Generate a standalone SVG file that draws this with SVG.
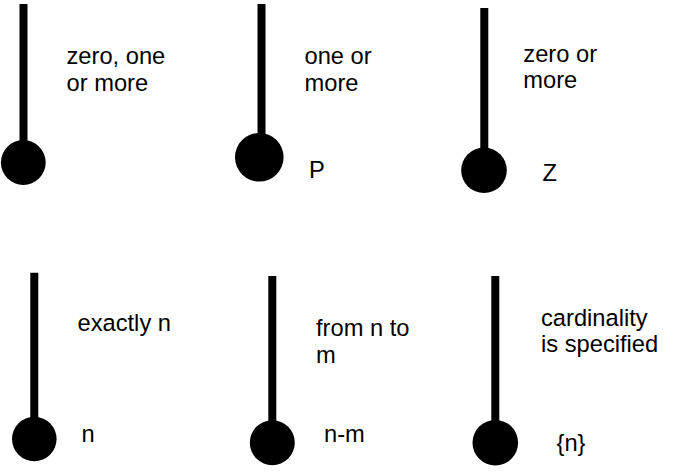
<svg xmlns="http://www.w3.org/2000/svg" width="675" height="476" viewBox="0 0 675 476">
<style>
.stem{stroke:#000;stroke-width:8;fill:none}
.dot{fill:#000}
text{font-family:"Liberation Sans",Arial,sans-serif;font-size:23.7px;fill:#000}
</style>
<rect width="675" height="476" fill="#fff"/>
<g id="connectors">
<line class="stem" x1="23.5" y1="4" x2="23.5" y2="150"/>
<line class="stem" x1="261.5" y1="4" x2="261.5" y2="145"/>
<line class="stem" x1="484.3" y1="8" x2="484.3" y2="158"/>
<line class="stem" x1="34.3" y1="272.7" x2="34.3" y2="428"/>
<line class="stem" x1="272.3" y1="276" x2="272.3" y2="430"/>
<line class="stem" x1="495.3" y1="276" x2="495.3" y2="430"/>
</g>
<g id="n1">
<circle class="dot" cx="23.3" cy="162.5" r="22.4"/>
<text x="66.5" y="64"><tspan x="66.5">zero, one</tspan><tspan x="66.5" dy="26.7">or more</tspan></text>
</g>
<g id="n2">
<circle class="dot" cx="259.3" cy="157.3" r="24.3"/>
<text x="304.5" y="64"><tspan x="304.5">one or</tspan><tspan x="304.5" dy="26.7">more</tspan></text>
<text x="309" y="178">P</text>
</g>
<g id="n3">
<circle class="dot" cx="484" cy="170.3" r="22.8"/>
<text x="523.3" y="61.7"><tspan x="523.3">zero or</tspan><tspan x="523.3" dy="26.7">more</tspan></text>
<text x="542.5" y="180.7">Z</text>
</g>
<g id="n4">
<circle class="dot" cx="34.3" cy="439" r="22.3"/>
<text x="77.5" y="330.7">exactly n</text>
<text x="81.5" y="441.7">n</text>
</g>
<g id="n5">
<circle class="dot" cx="272.3" cy="442.7" r="22.5"/>
<text x="316" y="336"><tspan x="316">from n to</tspan><tspan x="316" dy="26.7">m</tspan></text>
<text x="324" y="441.7">n-m</text>
</g>
<g id="n6">
<circle class="dot" cx="495.3" cy="442.7" r="22.8"/>
<text x="541" y="325.7"><tspan x="541">cardinality</tspan><tspan x="541" dy="26.7">is specified</tspan></text>
<text x="556.5" y="451">{n}</text>
</g>
</svg>
